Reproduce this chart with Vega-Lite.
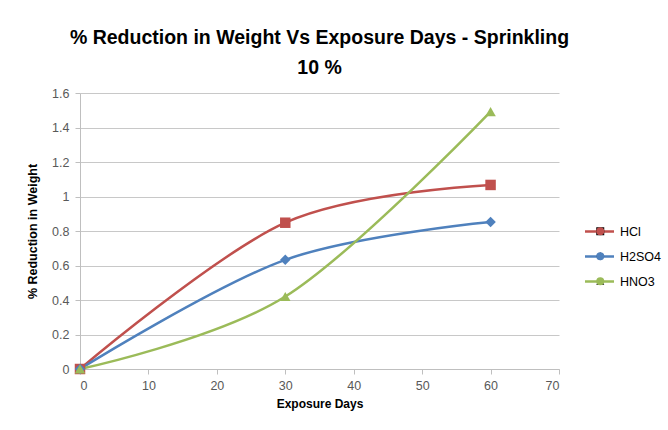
{
  "$schema": "https://vega.github.io/schema/vega-lite/v6.json",
  "autosize": "none",
  "width": 479,
  "height": 276,
  "padding": {"left": 80, "top": 93, "right": 109, "bottom": 61},
  "background": "white",
  "config": {
    "view": {"stroke": null},
    "font": "Liberation Sans"
  },
  "title": {
    "text": ["% Reduction in Weight Vs Exposure Days - Sprinkling", "10 %"],
    "fontSize": 19.5,
    "fontWeight": "bold",
    "font": "Liberation Sans",
    "color": "#000000",
    "anchor": "middle",
    "lineHeight": 30,
    "offset": 9
  },
  "data": {
    "values": [
      {"days": 0, "value": 0, "series": "HCl", "marker": "HCl"},
      {"days": 30, "value": 0.848, "series": "HCl", "marker": "HCl"},
      {"days": 60, "value": 1.067, "series": "HCl", "marker": "HCl"},
      {"days": 0, "value": 0, "series": "H2SO4", "marker": "H2SO4"},
      {"days": 30, "value": 0.633, "series": "H2SO4", "marker": "H2SO4"},
      {"days": 60, "value": 0.852, "series": "H2SO4", "marker": "H2SO4"},
      {"days": 0, "value": 0, "series": "HNO3", "marker": "HNO3"},
      {"days": 30, "value": 0.42, "series": "HNO3", "marker": "HNO3"},
      {"days": 60, "value": 1.492, "series": "HNO3", "marker": "HNO3"}
    ]
  },
  "encoding": {
    "x": {
      "field": "days",
      "type": "quantitative",
      "scale": {"domain": [0, 70], "nice": false},
      "axis": {
        "title": "Exposure Days",
        "values": [0, 10, 20, 30, 40, 50, 60, 70],
        "grid": false,
        "domainColor": "#bfbfbf",
        "tickColor": "#bfbfbf",
        "tickSize": 5,
        "labelColor": "#595959",
        "labelFontSize": 12.5,
        "labelPadding": 5,
        "titleFontSize": 12,
        "titleFontWeight": "bold",
        "titleColor": "#000000",
        "titlePadding": 7
      }
    },
    "y": {
      "field": "value",
      "type": "quantitative",
      "scale": {"domain": [0, 1.6], "nice": false},
      "axis": {
        "title": "%  Reduction in Weight",
        "values": [0, 0.2, 0.4, 0.6, 0.8, 1, 1.2, 1.4, 1.6],
        "format": "~g",
        "grid": true,
        "gridColor": "#c8c8c8",
        "domainColor": "#bfbfbf",
        "tickColor": "#bfbfbf",
        "tickSize": 5,
        "labelColor": "#595959",
        "labelFontSize": 12.5,
        "labelPadding": 6,
        "titleFontSize": 12.5,
        "titleFontWeight": "bold",
        "titleColor": "#000000",
        "titlePadding": 12
      }
    }
  },
  "layer": [
    {
      "mark": {"type": "line", "interpolate": "cardinal", "strokeWidth": 2.5},
      "encoding": {
        "color": {
          "field": "series",
          "type": "nominal",
          "scale": {"domain": ["HCl", "H2SO4", "HNO3"], "range": ["#c0504d", "#4f81bd", "#9bbb59"]},
          "legend": {
            "title": null,
            "orient": "none",
            "legendX": 513,
            "legendY": 132,
            "padding": 0,
            "symbolType": "M-2.9,0H2.9",
            "symbolSize": 100,
            "symbolStrokeWidth": 2.5,
            "labelFontSize": 12.5,
            "labelColor": "#000000",
            "labelOffset": 14,
            "rowPadding": 12
          }
        }
      }
    },
    {
      "mark": {"type": "point", "filled": true, "opacity": 1, "size": 110},
      "encoding": {
        "fill": {
          "field": "marker",
          "type": "nominal",
          "sort": ["HCl", "H2SO4", "HNO3"],
          "scale": {"range": ["#c0504d", "#4f81bd", "#9bbb59"]},
          "legend": {
            "title": null,
            "orient": "none",
            "legendX": 514,
            "legendY": 132,
            "padding": 0,
            "symbolSize": 64,
            "symbolStrokeWidth": 0,
            "labelFontSize": 12.5,
            "labelOpacity": 0,
            "labelOffset": 14,
            "rowPadding": 12
          }
        },
        "shape": {
          "field": "marker",
          "type": "nominal",
          "sort": ["HCl", "H2SO4", "HNO3"],
          "scale": {"range": ["square", "diamond", "triangle-up"]},
          "legend": {
            "title": null,
            "orient": "none",
            "legendX": 514,
            "legendY": 132,
            "padding": 0,
            "symbolSize": 64,
            "symbolStrokeWidth": 0,
            "labelFontSize": 12.5,
            "labelOpacity": 0,
            "labelOffset": 14,
            "rowPadding": 12
          }
        }
      }
    }
  ]
}
